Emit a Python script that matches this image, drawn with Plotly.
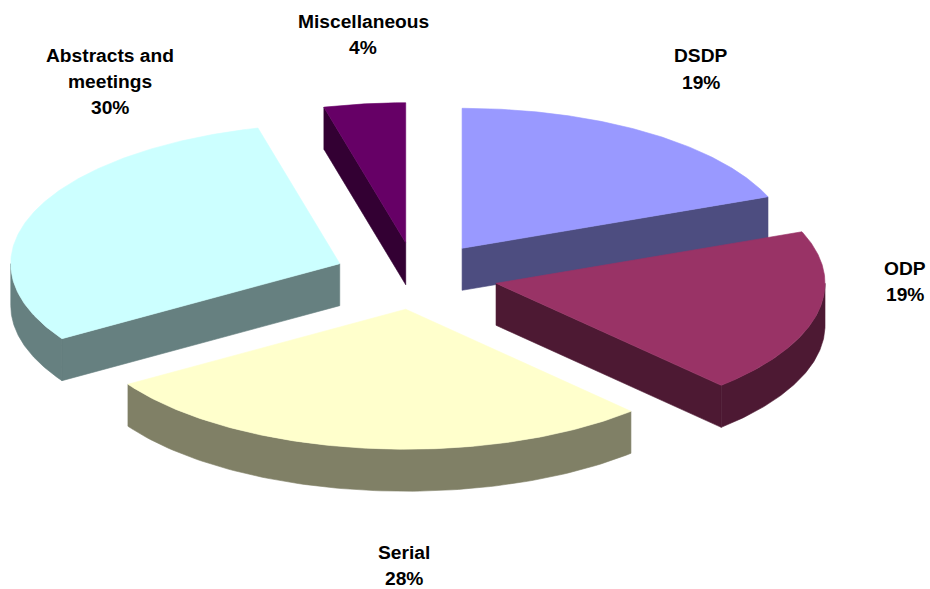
import numpy as np
import plotly.graph_objects as go

categories = ["DSDP", "ODP", "Serial", "Abstracts and meetings", "Miscellaneous"]
values = [19, 19, 28, 30, 4]
top_colors = ["#9999FF", "#993366", "#FFFFCC", "#CCFFFF", "#660066"]
wall_colors = ["#4D4D80", "#4D1933", "#808066", "#668080", "#330033"]

# Projection of the tilted, exploded pie onto the page (pixel-like axes)
CX, CY = 416.0, 276.0
RX, RY = 329.0, 140.0
EX, EY = 82.0, 33.5
DEPTH = 42.0

# Label line centres: (x, [y per line]) and wrapped names
label_pos = {
    "DSDP": (701, [55, 82]),
    "ODP": (905, [268, 294]),
    "Serial": (404, [552, 578]),
    "Abstracts and meetings": (109.5, [55, 81, 107]),
    "Miscellaneous": (363, [21, 47]),
}
wrapped = {"Abstracts and meetings": ["Abstracts and", "meetings"]}
draw_order = ["DSDP", "ODP", "Miscellaneous", "Abstracts and meetings", "Serial"]

total = sum(values)
angles = {}
run = 0.0
for c, v in zip(categories, values):
    a = run / total * 2 * np.pi
    run += v
    angles[c] = (a, run / total * 2 * np.pi)


def rim(ax, ay, t):
    return ax + RX * np.sin(t), ay - RY * np.cos(t)


fig = go.Figure()


def poly(x, y, color, line=None):
    fig.add_trace(go.Scatter(
        x=list(x), y=list(y), mode="lines", fill="toself", fillcolor=color,
        line=dict(color=line or color, width=0.6), hoverinfo="skip", showlegend=False,
    ))


for c in draw_order:
    i = categories.index(c)
    a, b = angles[c]
    mid = (a + b) / 2
    ax = CX + EX * np.sin(mid)
    ay = CY - EY * np.cos(mid)
    top, wall = top_colors[i], wall_colors[i]

    # cut faces that look toward the viewer
    if np.sin(a) < 0:
        rx, ry = rim(ax, ay, a)
        poly([ax, rx, rx, ax, ax], [ay, ry, ry + DEPTH, ay + DEPTH, ay], wall)
    if np.sin(b) > 0:
        rx, ry = rim(ax, ay, b)
        poly([ax, rx, rx, ax, ax], [ay, ry, ry + DEPTH, ay + DEPTH, ay], wall)

    # outer wall: the part of the rim on the near half
    lo, hi = max(a, np.pi / 2), min(b, 3 * np.pi / 2)
    if lo < hi:
        t = np.linspace(lo, hi, 90)
        xs, ys = rim(ax, ay, t)
        poly(np.r_[xs, xs[::-1], xs[0]], np.r_[ys, ys[::-1] + DEPTH, ys[0]], wall)

    # top face
    t = np.linspace(a, b, 160)
    xs, ys = rim(ax, ay, t)
    poly(np.r_[ax, xs, ax], np.r_[ay, ys, ay], top)

for c, v in zip(categories, values):
    x, ys = label_pos[c]
    lines = wrapped.get(c, [c]) + [f"{v}%"]
    for line, y in zip(lines, ys):
        fig.add_annotation(
            x=x, y=y, text=f"<b>{line}</b>", showarrow=False, xanchor="center", yanchor="middle",
            font=dict(family="Liberation Sans", size=19.2, color="#000000"),
        )

fig.update_layout(
    width=930, height=589, margin=dict(l=0, r=0, t=0, b=0),
    paper_bgcolor="#FFFFFF", plot_bgcolor="#FFFFFF", showlegend=False,
    xaxis=dict(range=[0, 930], visible=False, fixedrange=True),
    yaxis=dict(range=[589, 0], visible=False, fixedrange=True),
)
fig.write_html(
    "out.html",
    config={"displayModeBar": False},
    post_script="document.body.style.margin='0';document.documentElement.style.overflow='hidden';",
)
